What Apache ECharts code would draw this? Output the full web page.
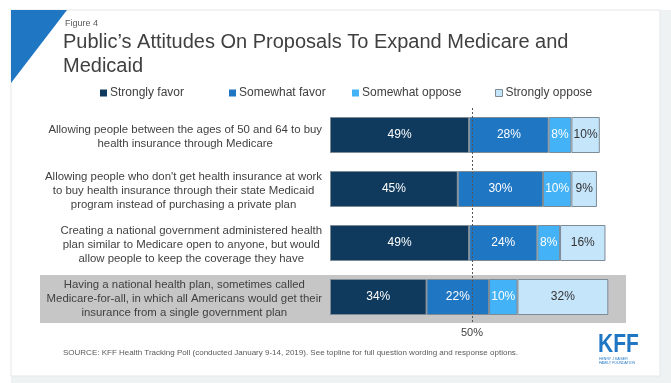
<!DOCTYPE html>
<html>
<head>
<meta charset="utf-8">
<script src="https://cdn.jsdelivr.net/npm/echarts@6/dist/echarts.min.js"></script>
<style>
html,body{margin:0;padding:0;background:#ffffff;}
#main{width:671px;height:383px;}
</style>
</head>
<body>
<div id="main"></div>
<script>
const categories = [
  "Allowing people between the ages of 50 and 64 to buy\nhealth insurance through Medicare",
  "Allowing people who don't get health insurance at work\nto buy health insurance through their state Medicaid\nprogram instead of purchasing a private plan",
  "Creating a national government administered health\nplan similar to Medicare open to anyone, but would\nallow people to keep the coverage they have",
  "Having a national health plan, sometimes called\nMedicare-for-all, in which all Americans would get their\ninsurance from a single government plan"
];
const seriesNames = ["Strongly favor", "Somewhat favor", "Somewhat oppose", "Strongly oppose"];
const stronglyFavor = [49, 45, 49, 34];
const somewhatFavor = [28, 30, 24, 22];
const somewhatOppose = [8, 10, 8, 10];
const stronglyOppose = [10, 9, 16, 32];
const referenceValue = 50;
const xTickLabels = {50: "50%"};

const FONT = "Liberation Sans, Arial, sans-serif";
const colors = ["#0f3a5d", "#1f77c4", "#43b2f6", "#c5e5fb"];
const labelColors = ["#ffffff", "#ffffff", "#ffffff", "#333333"];
const legendLefts = [100, 229, 352, 495];
const values = [stronglyFavor, somewhatFavor, somewhatOppose, stronglyOppose];

const chart = echarts.init(document.getElementById('main'), null, {renderer: 'canvas'});

const series = values.map((vals, i) => ({
  name: seriesNames[i],
  type: 'bar',
  stack: 'total',
  barWidth: 36,
  data: vals,
  itemStyle: {color: colors[i], borderColor: '#7d8b97', borderWidth: 1},
  label: {
    show: true, position: 'inside', formatter: '{c}%',
    color: labelColors[i], fontSize: 12, fontFamily: FONT
  },
  emphasis: {disabled: true},
  markLine: i === 3 ? {
    silent: true, symbol: 'none', z: 10,
    label: {show: false},
    lineStyle: {color: '#555', type: [2, 2], width: 1},
    data: [{xAxis: referenceValue}]
  } : undefined
}));

const legends = seriesNames.map((n, i) => ({
  data: [{name: n, itemStyle: i === 3 ? {borderColor: '#7d8b97', borderWidth: 1} : {borderWidth: 0}}],
  left: legendLefts[i], top: 87, padding: 0, itemWidth: 7, itemHeight: 7,
  icon: 'rect', selectedMode: false,
  textStyle: {fontSize: 12, color: '#404040', fontFamily: FONT, padding: [0, 0, 0, -2]}
}));

const option = {
  animation: false,
  textStyle: {fontFamily: FONT},
  title: [
    {text: 'Figure 4', left: 65, top: 19, padding: 0, textStyle: {fontSize: 9, fontWeight: 'normal', color: '#595959', fontFamily: FONT}},
    {text: 'Public\u2019s Attitudes On Proposals To Expand Medicare and\nMedicaid', left: 63, top: 30, padding: 0,
     textStyle: {fontSize: 20, fontWeight: 'normal', color: '#404040', lineHeight: 24, fontFamily: FONT}}
  ],
  legend: legends,
  grid: {left: 330, right: 57, top: 108, bottom: 59, containLabel: false},
  xAxis: {
    type: 'value', min: 0, max: 100, interval: 50,
    axisLine: {show: false}, axisTick: {show: false}, splitLine: {show: false},
    axisLabel: {margin: 3, fontSize: 11, color: '#404040', formatter: v => xTickLabels[v] || ''}
  },
  yAxis: {
    type: 'category', inverse: true, data: categories,
    axisLine: {show: false}, axisTick: {show: false},
    axisLabel: {
      margin: 8, align: 'right', padding: [4, 0, 0, 0],
      formatter: v => '{c|' + v + '}',
      rich: {c: {align: 'center', fontSize: 11.4, lineHeight: 14, color: '#3f3f3f', fontFamily: FONT}}
    }
  },
  graphic: [
    {id: 'bgGray', type: 'rect', z: -100, silent: true, shape: {x: 11, y: 10, width: 660, height: 373}, style: {fill: '#eef2f2'}},
    {id: 'card', type: 'rect', z: -99, silent: true, shape: {x: 11, y: 10, width: 649, height: 366}, style: {fill: '#ffffff', stroke: '#e4e8e8', lineWidth: 1}},
    {id: 'tri', type: 'polygon', z: -98, silent: true, shape: {points: [[11, 10], [67, 10], [11, 83]]}, style: {fill: '#1f77c4'}},
    {id: 'src', type: 'text', silent: true, left: 63, top: 349,
     style: {text: 'SOURCE: KFF Health Tracking Poll (conducted January 9-14, 2019). See topline for full question wording and response options.', fontSize: 8, fill: '#595959', fontFamily: FONT}},
    {id: 'kff', type: 'text', silent: true, x: 598, y: 333, scaleX: 0.84,
     style: {text: 'KFF', fontSize: 25, fontWeight: 'bold', fill: '#1f77c4', fontFamily: FONT, verticalAlign: 'top'}},
    {id: 'kff2', type: 'text', silent: true, x: 599, y: 357,
     style: {text: 'HENRY J KAISER\nFAMILY FOUNDATION', fontSize: 3.5, lineHeight: 4, fill: '#1f77c4', fontFamily: FONT, verticalAlign: 'top'}}
  ],
  series: series
};

chart.setOption(option);
const cy = chart.convertToPixel({yAxisIndex: 0}, categories[3]);
chart.setOption({
  graphic: [
    {id: 'hl', type: 'rect', z: -50, silent: true, shape: {x: 40, y: cy - 22, width: 586, height: 48}, style: {fill: '#c6c6c6'}}
  ]
});
</script>
</body>
</html>
